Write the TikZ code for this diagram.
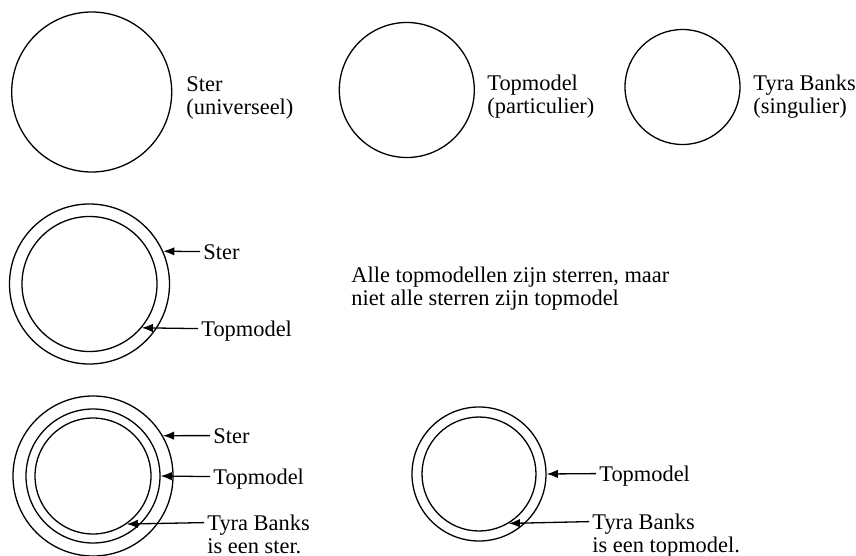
\documentclass[tikz,border=0pt]{standalone}
\usepackage{fontspec}
\setmainfont{Liberation Serif}
\usetikzlibrary{arrows.meta}

\tikzset{
  cirkel/.style={draw, circle, inner sep=0pt, line width=0.65pt},
  tekst/.style={anchor=base west, align=left, inner sep=1.5pt, font=\fontsize{11.2}{11.5}\selectfont},
  pijl/.style={-{Latex[length=5.6pt,width=4.2pt]}, line width=0.65pt}
}

\begin{document}
\begin{tikzpicture}[x=0.5pt, y=-0.5pt]
\useasboundingbox (0,0) rectangle (856,556);

\node[cirkel, minimum size=80pt] (ster) at (91.7,92) {};
\node[tekst] (lster) at (183,115) {Ster\\(universeel)};
\node[cirkel, minimum size=67.5pt] (topmodel) at (406.8,90) {};
\node[tekst] (ltopmodel) at (484,113) {Topmodel\\(particulier)};
\node[cirkel, minimum size=57.5pt] (tyra) at (682.5,87) {};
\node[tekst] (ltyra) at (750,113) {Tyra Banks\\(singulier)};

\node[cirkel, minimum size=80pt] (sterB) at (89.5,284) {};
\node[cirkel, minimum size=67.5pt] (topB) at (89.5,284) {};
\node[tekst] (lsterB) at (200,259) {Ster};
\node[tekst] (ltopB) at (198,336) {Topmodel};
\draw[pijl] ([yshift=3.7pt]lsterB.base west) -- (sterB.24.4);
\draw[pijl] ([yshift=3.7pt]ltopB.base west) -- (topB.-40.7);
\node[tekst] (zin) at (348,305) {Alle topmodellen zijn sterren, maar\\niet alle sterren zijn topmodel};

\node[cirkel, minimum size=80pt] (sterC) at (93,476) {};
\node[cirkel, minimum size=67pt] (topC) at (93,476) {};
\node[cirkel, minimum size=58pt] (tyraC) at (93,476) {};
\node[tekst] (lsterC) at (210,443) {Ster};
\node[tekst] (ltopC) at (210,484) {Topmodel};
\node[tekst] (ltyraC) at (204,553) {Tyra Banks\\is een ster.};
\draw[pijl] ([yshift=3.7pt]lsterC.base west) -- (sterC.30.8);
\draw[pijl] ([yshift=3.7pt]ltopC.base west) -- (topC.0);
\draw[pijl] ([yshift=15.2pt]ltyraC.base west) -- (tyraC.-55.9);

\node[cirkel, minimum size=67pt] (topD) at (479,474) {};
\node[cirkel, minimum size=57pt] (tyraD) at (479,474) {};
\node[tekst] (ltopD) at (596,481) {Topmodel};
\node[tekst] (ltyraD) at (589,552) {Tyra Banks\\is een topmodel.};
\draw[pijl] ([yshift=3.7pt]ltopD.base west) -- (topD.0);
\draw[pijl] ([yshift=15.2pt]ltyraD.base west) -- (tyraD.-59.3);
\end{tikzpicture}
\end{document}
